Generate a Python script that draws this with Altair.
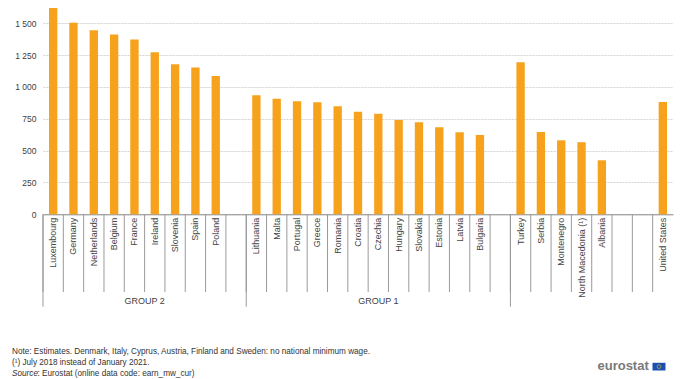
import altair as alt
import pandas as pd

categories = ["Luxembourg", "Germany", "Netherlands", "Belgium", "France", "Ireland",
              "Slovenia", "Spain", "Poland", " ",
              "Lithuania", "Malta", "Portugal", "Greece", "Romania", "Croatia", "Czechia",
              "Hungary", "Slovakia", "Estonia", "Latvia", "Bulgaria", "  ",
              "Turkey", "Serbia", "Montenegro", "North Macedonia (¹)", "Albania",
              "   ", "    ", "United States"]
values = [1685, 1505, 1445, 1411, 1372, 1272, 1178, 1152, 1086, None,
          935, 908, 888, 880, 848, 806, 790, 741, 723, 683, 644, 623, None,
          1194, 646, 581, 566, 424, None, None, 882]
group_starts = ["Luxembourg", "Lithuania", "Turkey"]
group_labels = ["GROUP 2", "GROUP 1"]
group_label_anchor = ["Ireland", "Czechia"]
y_ticks = [0, 250, 500, 750, 1000, 1250, 1500]
notes = ["Note: Estimates. Denmark, Italy,  Cyprus, Austria, Finland and Sweden: no national minimum wage.",
         "(¹) July 2018 instead of January 2021."]
source_italic = "Source"
source_rest = ": Eurostat (online data code: earn_mw_cur)"
logo_text = "eurostat"

FONT = "Liberation Sans"
BAR = "#F7A21C"
W = 630
H = 206.3

df = pd.DataFrame({"cat": categories, "value": values})
xsort = categories
xscale = alt.Scale(paddingInner=0, paddingOuter=0)
xaxis = alt.Axis(labelAngle=-90, labelFontSize=9, labelColor="#454545",
                 labelFont=FONT, labelPadding=3, ticks=False, tickSize=0,
                 domainColor="#8c8c8c", domainWidth=1, grid=False, title=None)


def xenc(bp=None):
    if bp is None:
        return alt.X("cat:N", sort=xsort, scale=xscale, axis=xaxis, title=None)
    return alt.X("cat:N", sort=xsort, scale=xscale, axis=xaxis, title=None, bandPosition=bp)


bars = alt.Chart(df).mark_bar(color=BAR, width={"band": 0.41}).encode(
    x=xenc(),
    y=alt.Y("value:Q", title=None,
            scale=alt.Scale(domain=[0, 1620], nice=False, clamp=False),
            axis=alt.Axis(values=y_ticks, labelFontSize=8.5, labelColor="#404040",
                          labelFont=FONT, ticks=False, tickSize=0, domain=False,
                          labelPadding=7, gridColor="#d4d4d4", gridDash=[2, 1],
                          gridWidth=1,
                          labelExpr="replace(format(datum.value, ','), ',', ' ')")),
)

div_df = pd.DataFrame({"cat": categories})
dividers = alt.Chart(div_df).mark_rule(color="#9a9a9a", strokeWidth=1).encode(
    x=xenc(0),
    y=alt.value(H),
    y2=alt.value(H + 77.7),
)

long_df = pd.DataFrame({"cat": group_starts})
long_div = alt.Chart(long_df).mark_rule(color="#9a9a9a", strokeWidth=1).encode(
    x=xenc(0),
    y=alt.value(H),
    y2=alt.value(H + 92.4),
)

g2 = alt.Chart(pd.DataFrame({"cat": [group_label_anchor[0]], "t": [group_labels[0]]})).mark_text(
    font=FONT, fontSize=9, color="#404040", baseline="middle", align="center").encode(
    x=xenc(0),
    y=alt.value(H + 86.4),
    text="t:N",
)
g1 = alt.Chart(pd.DataFrame({"cat": [group_label_anchor[1]], "t": [group_labels[1]]})).mark_text(
    font=FONT, fontSize=9, color="#404040", baseline="middle", align="center").encode(
    x=xenc(0.5),
    y=alt.value(H + 86.4),
    text="t:N",
)


def foot(text, x, y, style="normal"):
    return alt.Chart(alt.Data(values=[{"t": text}])).mark_text(
        font=FONT, fontSize=8.2, color="#333333", align="left", baseline="alphabetic",
        fontStyle=style).encode(
        x=alt.value(x), y=alt.value(y), text="t:N")


f1 = foot(notes[0], -31, 346.5)
f2 = foot(notes[1], -31, 357.5)
f3a = foot(source_italic, -31, 368, "italic")
f3b = foot(source_rest, -5.5, 368)

logo = alt.Chart(alt.Data(values=[{"t": logo_text}])).mark_text(
    font=FONT, fontSize=13, fontWeight="bold", color="#7a7a7a", align="left",
    baseline="alphabetic").encode(x=alt.value(554.5), y=alt.value(362.5), text="t:N")
flag = alt.Chart(alt.Data(values=[{"a": 1}])).mark_rect(color="#1d4fb0").encode(
    x=alt.value(609.5), x2=alt.value(622.5), y=alt.value(354.8), y2=alt.value(362.5))
stars = alt.Chart(alt.Data(values=[{"a": 1}])).mark_point(
    shape="circle", size=14, stroke="#f5d31c", strokeWidth=0.8, filled=False).encode(
    x=alt.value(616), y=alt.value(358.65))

chart = alt.layer(bars, dividers, long_div, g2, g1, f1, f2, f3a, f3b, logo, flag, stars).properties(
    width=W, height=H,
    autosize=alt.AutoSizeParams(type="none"),
    padding={"left": 35, "top": 0, "right": 18, "bottom": 164},
).configure(background="white").configure_view(strokeWidth=0, stroke="transparent")

chart.save("out.html", embed_options={"renderer": "svg", "actions": False})
